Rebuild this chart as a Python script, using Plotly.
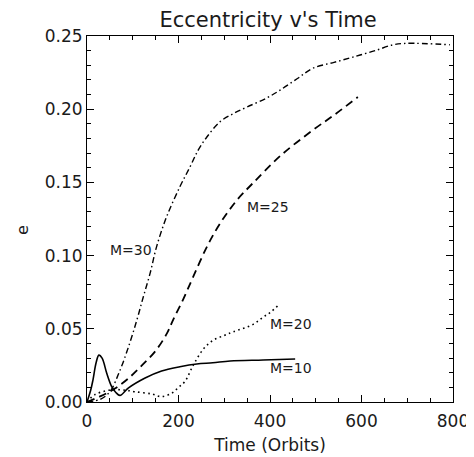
import plotly.graph_objects as go

# M=30 (dash-dot)
t30 = [0, 30, 50, 70, 90, 109, 123, 138, 152, 174, 203, 225, 243, 262, 291, 320, 350, 393, 422, 460, 494, 540, 575, 597, 630, 669, 700, 793]
e30 = [0.0, 0.002, 0.007, 0.02, 0.037, 0.056, 0.0717, 0.088, 0.106, 0.1265, 0.147, 0.1605, 0.172, 0.181, 0.1915, 0.197, 0.2015, 0.2077, 0.213, 0.221, 0.228, 0.232, 0.235, 0.237, 0.240, 0.244, 0.245, 0.244]

# M=25 (dashed)
t25 = [0, 30, 60, 90, 120, 150, 175, 188, 210, 232, 262, 291, 328, 363, 422, 494, 540, 592]
e25 = [0.0, 0.004, 0.009, 0.016, 0.025, 0.035, 0.047, 0.056, 0.070, 0.0854, 0.106, 0.122, 0.138, 0.1496, 0.168, 0.1858, 0.196, 0.2083]

# M=20 (dotted)
t20 = [0, 17, 40, 61, 85, 105, 141, 163, 185, 200, 214, 232, 254, 275, 300, 320, 363, 385, 400, 418]
e20 = [0.0, 0.005, 0.0075, 0.0085, 0.008, 0.007, 0.0055, 0.0037, 0.006, 0.010, 0.014, 0.025, 0.036, 0.042, 0.0455, 0.048, 0.053, 0.058, 0.061, 0.066]

# M=10 (solid)
t10 = [0, 8, 13, 20, 26, 33, 43, 54, 63, 72, 90, 127, 163, 203, 240, 275, 313, 385, 455]
e10 = [0.0, 0.008, 0.015, 0.027, 0.032, 0.030, 0.0198, 0.0105, 0.0065, 0.0045, 0.0095, 0.0164, 0.0212, 0.0241, 0.026, 0.0268, 0.028, 0.0287, 0.0294]

labels = ["M=30", "M=25", "M=20", "M=10"]
label_x = [96, 396, 446, 446]
label_y = [0.1038, 0.133, 0.0533, 0.0232]

x_ticks = [0, 200, 400, 600, 800]
y_ticks = [0.00, 0.05, 0.10, 0.15, 0.20, 0.25]
y_ticklabels = ["0.00", "0.05", "0.10", "0.15", "0.20", "0.25"]

FONT = "DejaVu Sans"
TXT = "#1a1a1a"

fig = go.Figure()
fig.add_trace(go.Scatter(x=t30, y=e30, mode="lines", line=dict(color="black", width=1.4, dash="6px,3px,1.5px,3px"), line_shape="spline"))
fig.add_trace(go.Scatter(x=t25, y=e25, mode="lines", line=dict(color="black", width=1.8, dash="8px,5px"), line_shape="spline"))
fig.add_trace(go.Scatter(x=t20, y=e20, mode="lines", line=dict(color="black", width=1.6, dash="1.6px,3.4px"), line_shape="spline"))
fig.add_trace(go.Scatter(x=t10, y=e10, mode="lines", line=dict(color="black", width=1.6), line_shape="spline"))

for lab, lx, ly in zip(labels, label_x, label_y):
    fig.add_annotation(x=lx, y=ly, text=lab, showarrow=False,
                       font=dict(family=FONT, size=14, color=TXT),
                       xanchor="center", yanchor="middle")

fig.add_annotation(xref="paper", yref="paper", x=-0.175, y=0.47, text="e",
                   textangle=-90, showarrow=False, xanchor="center", yanchor="middle",
                   font=dict(family=FONT, size=16, color=TXT))

axis_common = dict(showgrid=False, zeroline=False, showline=True, linecolor="black",
                   linewidth=1, mirror="allticks", ticks="inside", ticklen=7,
                   tickcolor="black", tickwidth=1, automargin=False,
                   tickfont=dict(family=FONT, size=17, color=TXT))

fig.update_xaxes(range=[0, 800], tickvals=x_ticks,
                 minor=dict(dtick=50, ticks="inside", ticklen=4, tickcolor="black", tickwidth=1),
                 ticklabelstandoff=4,
                 title=dict(text="Time (Orbits)", font=dict(family=FONT, size=17, color=TXT), standoff=8),
                 **axis_common)
fig.update_yaxes(range=[0, 0.25], tickvals=y_ticks, ticktext=y_ticklabels,
                 minor=dict(dtick=0.01, ticks="inside", ticklen=4, tickcolor="black", tickwidth=1),
                 ticklabelstandoff=0,
                 **axis_common)

fig.update_layout(
    width=466, height=449,
    margin=dict(l=79, r=21, t=28, b=55),
    paper_bgcolor="white", plot_bgcolor="white",
    showlegend=False,
    title=dict(text="Eccentricity v's Time", x=(268 - 8) / 466, xanchor="center", y=1 - 12 / 449, yanchor="middle",
               font=dict(family=FONT, size=21, color=TXT)),
)

fig.write_html("out.html")
